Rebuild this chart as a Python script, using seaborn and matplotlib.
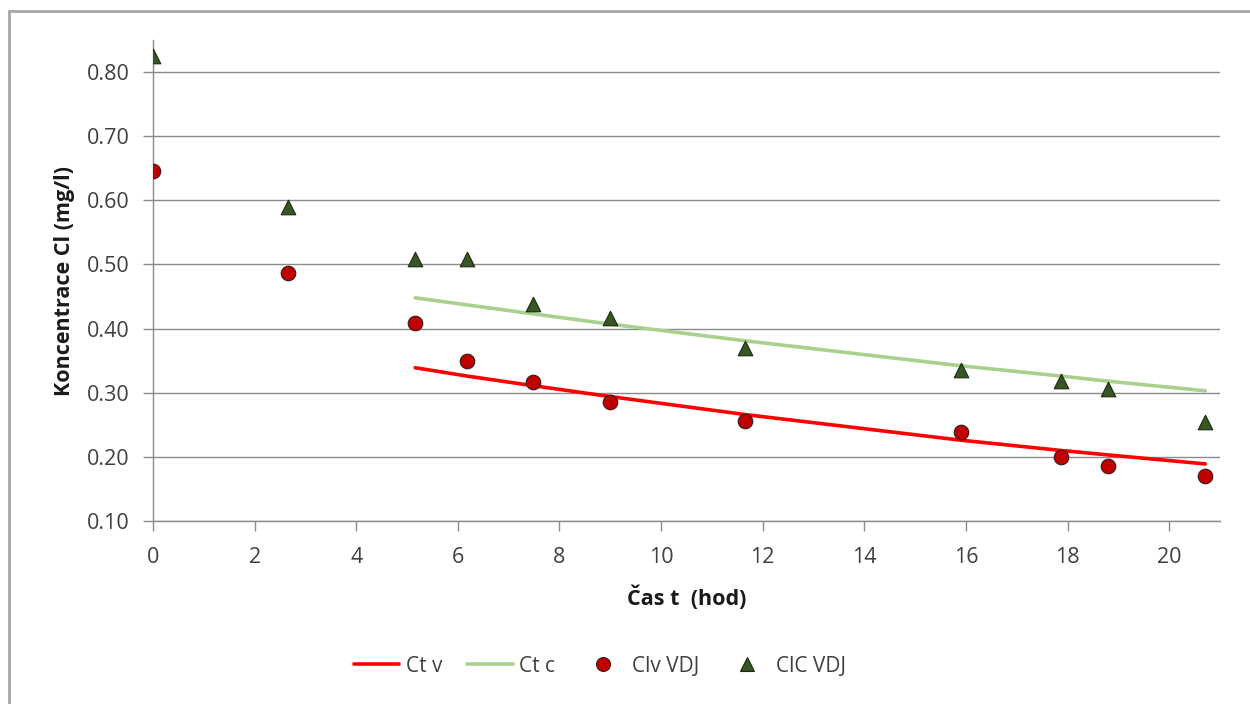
import matplotlib
matplotlib.use("Agg")
import matplotlib.pyplot as plt
import matplotlib.lines as mlines
import seaborn as sns
import pandas as pd

# Data
t_hours = [0.0, 2.66, 5.16, 6.18, 7.48, 9.0, 11.65, 15.9, 17.87, 18.8, 20.71]
clv_vdj = [0.645, 0.486, 0.409, 0.350, 0.317, 0.286, 0.256, 0.239, 0.200, 0.186, 0.170]
clc_vdj = [0.825, 0.589, 0.509, 0.509, 0.439, 0.416, 0.370, 0.336, 0.319, 0.306, 0.255]

t_fit = [5.16, 6.18, 7.48, 9.0, 11.65, 15.9, 17.87, 18.8, 20.71]
ct_v = [0.339, 0.326, 0.311, 0.294, 0.266, 0.226, 0.210, 0.203, 0.189]
ct_c = [0.448, 0.437, 0.423, 0.407, 0.381, 0.342, 0.326, 0.318, 0.303]

x_ticks = [0, 2, 4, 6, 8, 10, 12, 14, 16, 18, 20]
y_ticks = [0.10, 0.20, 0.30, 0.40, 0.50, 0.60, 0.70, 0.80]

sns.set_theme(style="white")
plt.rcParams['font.family'] = ['Open Sans', 'DejaVu Sans']

fig = plt.figure(figsize=(12.5, 7.04), dpi=100)
ax = fig.add_axes([153/1250, 1 - 521/704, (1220 - 153)/1250, (521 - 40)/704])

grid_c = "#8C8C8C"
df_pts = pd.DataFrame({"t": t_hours, "clv": clv_vdj, "clc": clc_vdj})
df_fit = pd.DataFrame({"t": t_fit, "ctv": ct_v, "ctc": ct_c})

sns.lineplot(data=df_fit, x="t", y="ctv", ax=ax, color="#FF0000", lw=2.6, zorder=3)
sns.lineplot(data=df_fit, x="t", y="ctc", ax=ax, color="#A9D18E", lw=2.6, zorder=3)
sns.scatterplot(data=df_pts, x="t", y="clv", ax=ax, marker="o", s=110,
                color="#C00000", edgecolor="#3a1a1a", linewidth=0.8, zorder=4)
sns.scatterplot(data=df_pts, x="t", y="clc", ax=ax, marker="^", s=110,
                color="#375623", edgecolor="#1a2a10", linewidth=0.8, zorder=4)

ax.set_xlim(0, 21)
ax.set_ylim(0.10, 0.85)
ax.set_xticks(x_ticks)
ax.set_yticks(y_ticks)
ax.set_yticklabels([f"{v:.2f}" for v in y_ticks])
ax.grid(axis="y", color=grid_c, lw=1.0)
ax.set_axisbelow(True)
for s in ["top", "right"]:
    ax.spines[s].set_visible(False)
for s in ["left", "bottom"]:
    ax.spines[s].set_color(grid_c)
    ax.spines[s].set_linewidth(1.0)
ax.tick_params(axis="both", which="major", direction="out", length=7, width=1.0,
               color=grid_c, labelsize=15.5, labelcolor="#404040")
ax.tick_params(axis="y", pad=10)
ax.tick_params(axis="x", pad=12)
ax.tick_params(left=True, bottom=True)

ax.set_xlabel("Čas t  (hod)", fontsize=15.5, fontweight="bold", color="#1a1a1a", labelpad=12)
ax.set_ylabel("Koncentrace Cl (mg/l)", fontsize=15.5, fontweight="bold", color="#1a1a1a", labelpad=8)

handles = [
    mlines.Line2D([], [], color="#FF0000", lw=2.6),
    mlines.Line2D([], [], color="#A9D18E", lw=2.6),
    mlines.Line2D([], [], color="#C00000", marker="o", ls="none", markersize=10,
                  markeredgecolor="#3a1a1a", markeredgewidth=0.8),
    mlines.Line2D([], [], color="#375623", marker="^", ls="none", markersize=10,
                  markeredgecolor="#1a2a10", markeredgewidth=0.8),
]
labels = ["Ct v", "Ct c", "Clv VDJ", "ClC VDJ"]
fig.legend(handles, labels, loc="center", bbox_to_anchor=(0.48, 1 - 666/704), ncol=4,
           frameon=False, fontsize=15, handlelength=2.2, handletextpad=0.3, columnspacing=1.2,
           labelcolor="#404040")

# Outer chart border (top and left visible)
border_c = "#A6A6A6"
fig.add_artist(mlines.Line2D([9/1250, 1.0], [1 - 11/704, 1 - 11/704], color=border_c, lw=2.0,
                             transform=fig.transFigure))
fig.add_artist(mlines.Line2D([9/1250, 9/1250], [0.0, 1 - 11/704], color=border_c, lw=2.0,
                             transform=fig.transFigure))

fig.savefig("out.png", dpi=100)
